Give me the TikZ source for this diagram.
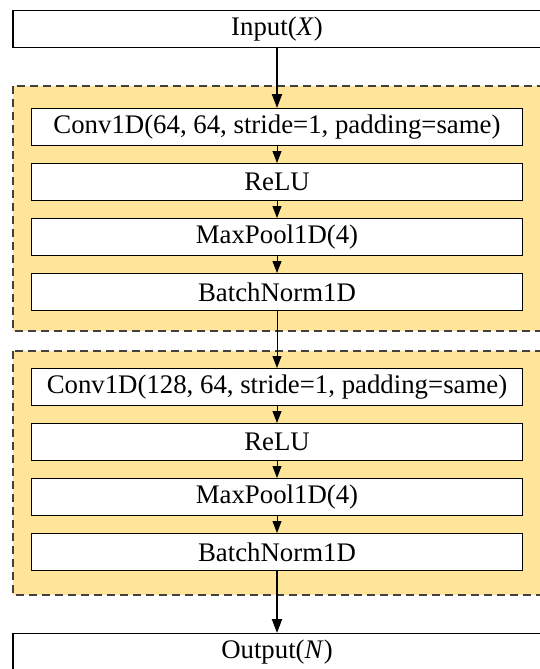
\documentclass[tikz,border=0pt]{standalone}
\usepackage{fontspec}
\setmainfont{Liberation Serif}
\usetikzlibrary{arrows.meta}
\definecolor{grpfill}{HTML}{FFE599}
\definecolor{grpline}{HTML}{404040}
\tikzset{
  layerbox/.style={draw=black, fill=white, line width=1.2pt, minimum width=491pt, minimum height=37pt, inner sep=0pt, anchor=north, font=\fontsize{26.8}{30}\selectfont},
  iobox/.style={draw=black, fill=white, line width=1.2pt, minimum width=528pt, minimum height=37pt, inner sep=0pt, anchor=north, font=\fontsize{26.8}{30}\selectfont},
  grpbox/.style={draw=grpline, fill=grpfill, line width=1.1pt, dash pattern=on 8pt off 5pt},
  thinarr/.style={-{Triangle[length=12pt,width=9pt]}, line width=1pt},
  thickarr/.style={-{Triangle[length=14pt,width=10pt]}, line width=2pt},
}
\begin{document}
\begin{tikzpicture}[x=1pt,y=-1pt]
\useasboundingbox (0,0) rectangle (540,669);
\clip (0,0) rectangle (540,669);
% group backgrounds
\draw[grpbox] (13,86) rectangle (541,331);
\draw[grpbox] (13,351) rectangle (541,595);
% nodes
\node[iobox] (in) at (277,10) {Input(\textit{X})};
\node[layerbox] (c1) at (277,108) {Conv1D(64, 64, stride=1, padding=same)};
\node[layerbox] (r1) at (277,163) {ReLU};
\node[layerbox] (m1) at (277,218) {MaxPool1D(4)};
\node[layerbox] (b1) at (277,273) {BatchNorm1D};
\node[layerbox] (c2) at (277,368) {Conv1D(128, 64, stride=1, padding=same)};
\node[layerbox] (r2) at (277,423) {ReLU};
\node[layerbox] (m2) at (277,478) {MaxPool1D(4)};
\node[layerbox] (b2) at (277,533) {BatchNorm1D};
\node[iobox] (out) at (277,633) {Output(\textit{N})};
% connectors
\draw[thickarr] (in.south) -- (c1.north);
\draw[thinarr] (c1.south) -- (r1.north);
\draw[thinarr] (r1.south) -- (m1.north);
\draw[thinarr] (m1.south) -- (b1.north);
\draw[thinarr] (b1.south) -- (c2.north);
\draw[thinarr] (c2.south) -- (r2.north);
\draw[thinarr] (r2.south) -- (m2.north);
\draw[thinarr] (m2.south) -- (b2.north);
\draw[thickarr] (b2.south) -- (out.north);
\end{tikzpicture}
\end{document}
